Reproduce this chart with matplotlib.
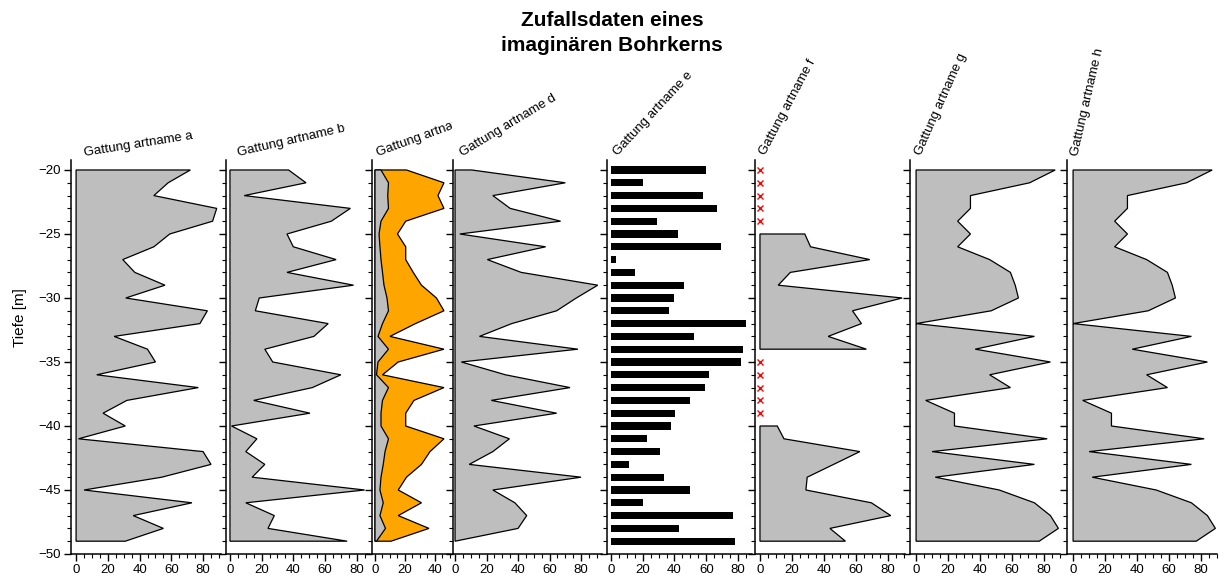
import numpy as np
import matplotlib
matplotlib.use("Agg")
import matplotlib.pyplot as plt
from matplotlib.ticker import MultipleLocator
from matplotlib.transforms import Bbox

plt.rcParams["font.family"] = ["Liberation Sans", "DejaVu Sans"]

# ---- data -------------------------------------------------------------
depth = [-20, -21, -22, -23, -24, -25, -26, -27, -28, -29,
         -30, -31, -32, -33, -34, -35, -36, -37, -38, -39,
         -40, -41, -42, -43, -44, -45, -46, -47, -48, -49]

taxa = ["Gattung artname a", "Gattung artname b", "Gattung artname c",
        "Gattung artname d", "Gattung artname e", "Gattung artname f",
        "Gattung artname g", "Gattung artname h"]

val_a = [72, 58, 49, 88.6, 86, 59, 49, 29.4, 37, 56, 31.3, 82.7, 78, 24, 45,
         50, 13, 77, 32, 17, 31, 1.5, 80, 85, 54, 5, 73, 36, 55, 31]
val_b = [37, 48, 9, 76, 64, 36, 40, 67, 36, 78, 18.5, 16, 62, 53, 22,
         27, 70, 52, 15, 50.5, 1, 17, 10, 22, 14, 85, 10, 28, 24, 74]
val_c_small = [4, 9, 8.5, 9, 4, 2.7, 3.3, 4, 5, 6, 8, 9, 5, 2, 9,
               2, 1, 9, 5, 4, 4, 9, 6.7, 5.5, 4, 3.3, 5.5, 3.3, 7, 1]
val_c = [21, 46, 42, 46, 20.5, 15, 20.5, 20.5, 25.5, 31, 41, 46, 27, 10, 46,
         15.5, 5, 46, 26, 20.5, 20.5, 46, 36.7, 31, 21, 15.5, 31, 15.5, 36, 10.7]
val_d = [10.6, 70, 24, 35, 67, 3, 57.5, 20.5, 42, 90.6, 77, 64.5, 36, 15.5, 78,
         4, 32, 73, 23, 64.5, 12, 34.5, 24, 9, 80, 24, 38, 45.5, 40, 0]
val_e = [60, 20, 58, 67, 29, 42, 69, 3, 15, 45.7, 39.6, 36.6, 85, 52, 83,
         82, 62, 59, 50, 40.6, 37.7, 22.4, 30.6, 11.3, 33.5, 50, 20, 77, 42.7, 78]
nan = float("nan")
val_f = [nan, nan, nan, nan, nan, 28, 31.6, 68.6, 19, 11.4, 88.8, 57.8, 63.4, 42.6, 66.5,
         nan, nan, nan, nan, nan, 10.8, 15, 62.4, 46, 29.5, 28.7, 69.6, 81.7, 43.7, 53.4]
val_g = [87, 71, 34, 34, 26, 34, 26, 46, 59, 62, 64, 47, 0, 74, 37,
         84, 46, 59, 6, 24, 24, 82, 10, 74, 12, 52, 74, 84, 89, 77]
val_h = [87, 71, 34, 34, 26, 34, 26, 46, 59, 62, 64, 47, 0, 74, 37,
         84, 46, 59, 6, 24, 24, 82, 10, 74, 12, 52, 74, 84, 89, 77]

# ---- layout (pixels) ---------------------------------------------------
W, H = 1219, 575
fig = plt.figure(figsize=(W / 100, H / 100), dpi=100)
fig.patch.set_facecolor("white")

# left spine px, right px, x at left spine, x at right edge
panels = [
    (71, 221, -3.2, 91.3),
    (226, 370, -2.5, 88.4),
    (372, 451, -2.0, 50.7),
    (453, 602, -1.3, 93.3),
    (607, 752, -2.5, 88.8),
    (755, 905, -3.1, 90.6),
    (910, 1060, -3.8, 90.0),
    (1067, 1217, -3.8, 90.0),
]
ax_top_px, ax_bot_px = 160, 554
ylim = (-50, -19.22)

label_rot = [9, 13, 20, 31, 47, 62, 66, 77]
label_dx = [14, 12, 6, 9, 11, 10, 11, 11]

GREY = "#BEBEBE"
ORANGE = "#FFA500"


def closed_area(ax, d, v, color, z=2):
    d = np.asarray(d, float)
    v = np.asarray(v, float)
    xs = np.concatenate([[0], v, [0]])
    ys = np.concatenate([[d[0]], d, [d[-1]]])
    ax.fill(xs, ys, facecolor=color, edgecolor="black", linewidth=0.9, zorder=z)


def area_segments(ax, d, v, color):
    d = np.asarray(d, float)
    v = np.asarray(v, float)
    idx = np.where(~np.isnan(v))[0]
    if len(idx) == 0:
        return
    splits = np.where(np.diff(idx) > 1)[0] + 1
    for seg in np.split(idx, splits):
        closed_area(ax, d[seg], v[seg], color)


axes = []
for i, (l, r, x0, x1) in enumerate(panels):
    rect = [l / W, 1 - ax_bot_px / H, (r - l) / W, (ax_bot_px - ax_top_px) / H]
    ax = fig.add_axes(rect)
    ax.set_xlim(x0, x1)
    ax.set_ylim(*ylim)
    for s in ("top", "right"):
        ax.spines[s].set_visible(False)
    for s in ("left", "bottom"):
        ax.spines[s].set_linewidth(1.1)
    ax.yaxis.set_major_locator(MultipleLocator(5))
    ax.yaxis.set_minor_locator(MultipleLocator(1))
    ax.xaxis.set_major_locator(MultipleLocator(20))
    ax.xaxis.set_minor_locator(MultipleLocator(5))
    ax.tick_params(axis="both", which="major", length=5, width=1.0,
                   labelsize=9.5, direction="out", pad=2)
    ax.tick_params(axis="both", which="minor", length=3, width=0.8, direction="out")
    if i > 0:
        ax.tick_params(axis="y", labelleft=False)
    axes.append(ax)

closed_area(axes[0], depth, val_a, GREY)
closed_area(axes[1], depth, val_b, GREY)
closed_area(axes[2], depth, val_c, ORANGE, z=2)
closed_area(axes[2], depth, val_c_small, GREY, z=3)
closed_area(axes[3], depth, val_d, GREY)
axes[4].barh(depth, val_e, height=0.55, color="black", zorder=2)
area_segments(axes[5], depth, val_f, GREY)
miss = [d for d, v in zip(depth, val_f) if np.isnan(v)]
axes[5].plot([0] * len(miss), miss, linestyle="none", marker="x",
             color="red", markersize=4, markeredgewidth=1.0, zorder=4,
             clip_on=False)
closed_area(axes[6], depth, val_g, GREY)
closed_area(axes[7], depth, val_h, GREY)

# column headers, cut off at the right edge of their own column
for i, name in enumerate(taxa):
    l, r, x0, x1 = panels[i]
    t = fig.text((l + label_dx[i]) / W, 1 - 156 / H, name, rotation=label_rot[i],
                 rotation_mode="anchor", ha="left", va="baseline", fontsize=9.5)
    t.set_clip_on(True)
    t.set_clip_box(Bbox.from_extents(0, 0, r + 1, H))

fig.text(20 / W, 1 - 318 / H, "Tiefe [m]", rotation=90, ha="center", va="center",
         fontsize=11)

fig.text(0.502, 1 - 11 / H, "Zufallsdaten eines\nimaginären Bohrkerns", ha="center",
         va="top", fontsize=15, fontweight="bold", linespacing=1.4)

fig.savefig("out.png", dpi=100)
